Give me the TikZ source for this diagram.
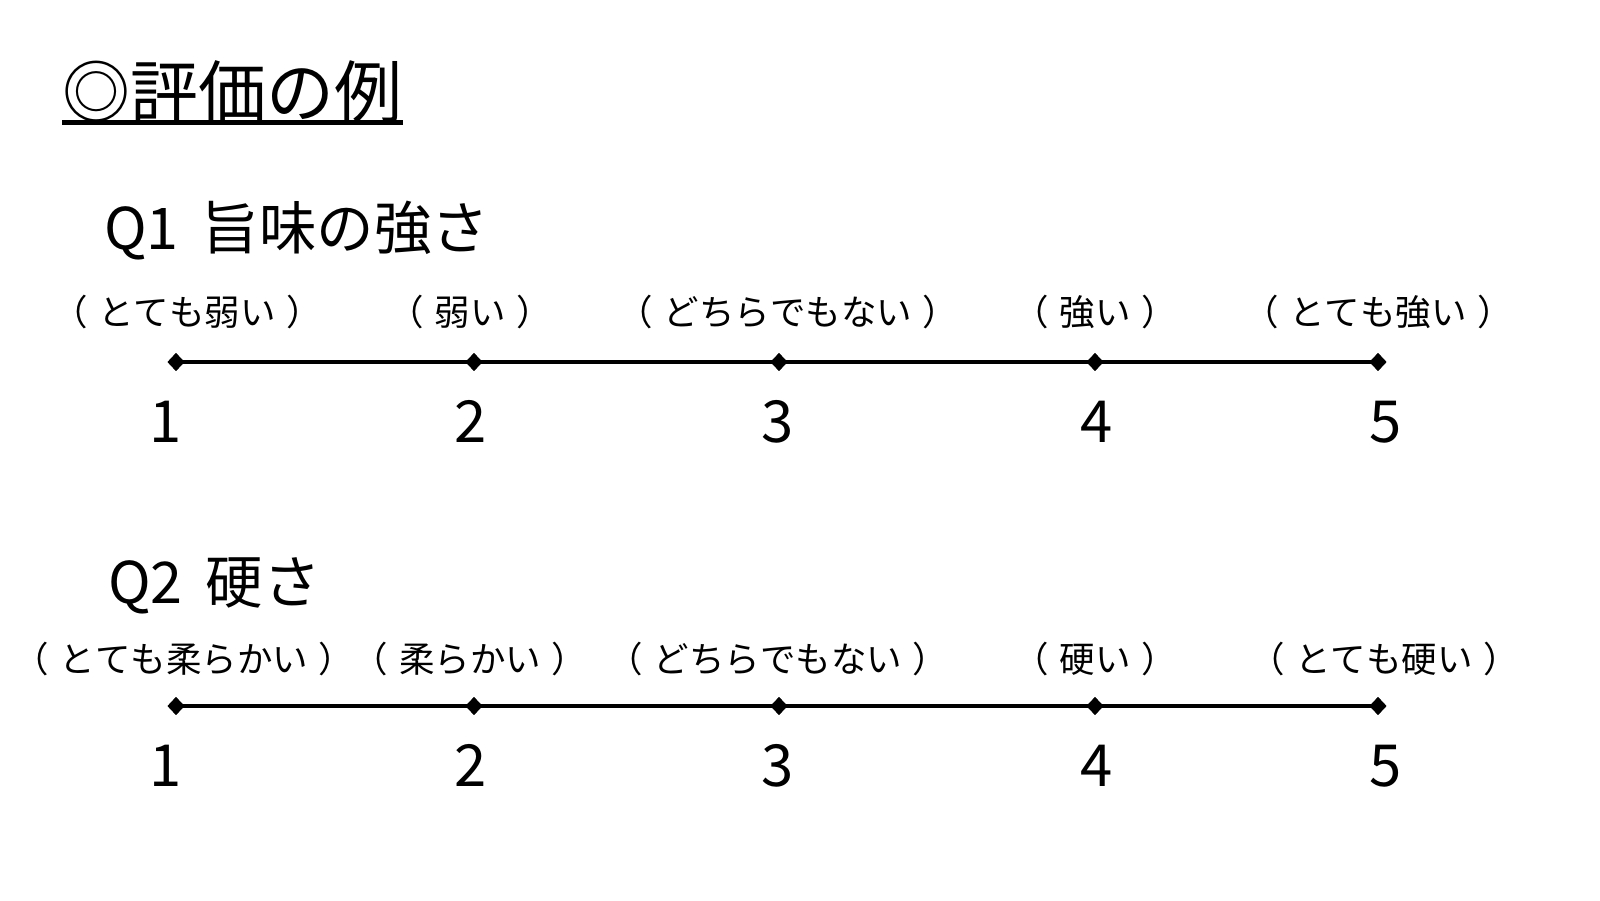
\documentclass[tikz,border=0pt]{standalone}
\usepackage{fontspec}
\setmainfont[Kerning=Off]{Noto Sans CJK JP}
\usetikzlibrary{shapes.geometric}
\newcommand{\lp}{（\hspace{0.3em}}
\newcommand{\rp}{\hspace{0.3em}）}
\tikzset{
  tickmark/.style={diamond, fill=black, draw=none, inner sep=0pt, minimum width=17pt, minimum height=18pt},
  axisline/.style={line width=3.4pt, draw=black},
  lbl/.style={anchor=base, inner sep=0pt, font=\fontsize{35.5}{38}\selectfont},
  num/.style={anchor=base, inner sep=0pt, font=\fontsize{58}{64}\selectfont},
  qtext/.style={anchor=base west, inner sep=0pt, font=\fontsize{57.5}{60}\selectfont},
  titletext/.style={anchor=base west, inner sep=0pt, font=\fontsize{68}{72}\selectfont},
}
\begin{document}
\begin{tikzpicture}[x=1pt,y=-1pt]
\useasboundingbox[fill=white] (0,0) rectangle (1600,900);
% title
\node[titletext] (title) at (62,117) {◎評価の例};
\draw[line width=5pt] ([yshift=-5.5pt]title.base west) -- ([yshift=-5.5pt,xshift=1pt]title.base east);
% Q1
\node[qtext] (q1) at (104,249) {Q1\hspace{0.4em}旨味の強さ};
\foreach \i/\x in {1/176,2/474,3/779,4/1095,5/1378}{
  \node[tickmark] (a\i) at (\x,362) {};
}
\draw[axisline] (a1.center) -- (a2.center) -- (a3.center) -- (a4.center) -- (a5.center);
\foreach \i/\x in {1/176,2/474,3/779,4/1095,5/1378}{
  \node[tickmark] at (\x,362) {};
}
\node[lbl] (l1) at (187,325) {\lp とても弱い\rp};
\node[lbl] (l2) at (470,325) {\lp 弱い\rp};
\node[lbl] (l3) at (788,325) {\lp どちらでもない\rp};
\node[lbl] (l4) at (1095,325) {\lp 強い\rp};
\node[lbl] (l5) at (1378,325) {\lp とても強い\rp};
\node[num] (n1) at (166,442) {1};
\node[num] (n2) at (471,442) {2};
\node[num] (n3) at (778,442) {3};
\node[num] (n4) at (1097,442) {4};
\node[num] (n5) at (1386,442) {5};
% Q2
\node[qtext] (q2) at (108,603) {Q2\hspace{0.4em}硬さ};
\foreach \i/\x in {1/176,2/474,3/779,4/1095,5/1378}{
  \node[tickmark] (b\i) at (\x,706) {};
}
\draw[axisline] (b1.center) -- (b2.center) -- (b3.center) -- (b4.center) -- (b5.center);
\foreach \i/\x in {1/176,2/474,3/779,4/1095,5/1378}{
  \node[tickmark] at (\x,706) {};
}
\node[lbl] (m1) at (184,672) {\lp とても柔らかい\rp};
\node[lbl] (m2) at (470,672) {\lp 柔らかい\rp};
\node[lbl] (m3) at (778,672) {\lp どちらでもない\rp};
\node[lbl] (m4) at (1095,672) {\lp 硬い\rp};
\node[lbl] (m5) at (1384,672) {\lp とても硬い\rp};
\node[num] (p1) at (166,786) {1};
\node[num] (p2) at (471,786) {2};
\node[num] (p3) at (778,786) {3};
\node[num] (p4) at (1097,786) {4};
\node[num] (p5) at (1386,786) {5};
\end{tikzpicture}
\end{document}
